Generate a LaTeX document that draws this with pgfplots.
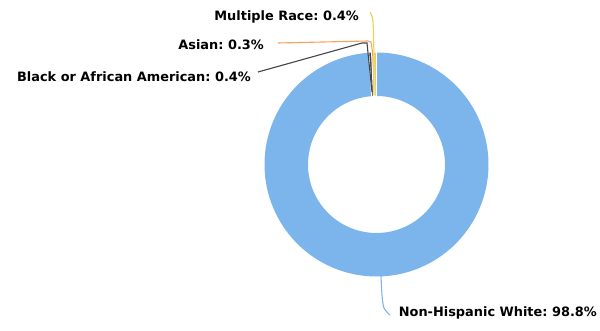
\documentclass[border=0pt]{standalone}
\usepackage{pgfplots}
\pgfplotsset{compat=1.18}
\usepackage{fontspec}
\setmainfont{DejaVu Sans}
\frenchspacing
\definecolor{cWhite}{HTML}{7CB5EC}
\definecolor{cBlack}{HTML}{434348}
\definecolor{cAsian}{HTML}{F7A35C}
\definecolor{cMulti}{HTML}{E4D354}
% data (percent)
\def\vWhite{98.8}
\def\vBlack{0.4}
\def\vAsian{0.3}
\def\vMulti{0.4}
\pgfmathsetmacro\vTot{\vWhite+\vBlack+\vAsian+\vMulti}
\pgfmathsetmacro\aA{\vWhite/\vTot*360}
\pgfmathsetmacro\aB{(\vWhite+\vBlack)/\vTot*360}
\pgfmathsetmacro\aC{(\vWhite+\vBlack+\vAsian)/\vTot*360}
\def\cx{376.5}
\def\cy{164.5}
\def\rin{68.5}
\def\rout{112}
\def\rmid{90.25}
\begin{document}
\begin{tikzpicture}
\useasboundingbox (0,0) rectangle (600bp,331bp);
\begin{axis}[
  at={(0,0)}, anchor=south west,
  width=600bp, height=331bp, scale only axis,
  xmin=0, xmax=600, ymin=0, ymax=331, y dir=reverse,
  hide axis, clip=false,
  every axis plot/.append style={no markers},
]
% slices (thick arcs, angle measured clockwise from top)
\addplot[draw=cWhite, line width=43.5bp, domain=0:\aA, samples=240] ({\cx+\rmid*sin(x)},{\cy-\rmid*cos(x)});
\addplot[draw=cBlack, line width=43.5bp, domain=\aA:\aB, samples=3] ({\cx+\rmid*sin(x)},{\cy-\rmid*cos(x)});
\addplot[draw=cAsian, line width=43.5bp, domain=\aB:\aC, samples=3] ({\cx+\rmid*sin(x)},{\cy-\rmid*cos(x)});
\addplot[draw=cMulti, line width=43.5bp, domain=\aC:360, samples=3] ({\cx+\rmid*sin(x)},{\cy-\rmid*cos(x)});
% white slice borders
\foreach \a in {0,\aA,\aB,\aC} {
  \edef\temp{\noexpand\addplot[draw=white, line width=1bp, domain=\rin-1:\rout+1, samples=2] ({\cx+x*sin(\a)},{\cy-x*cos(\a)});}
  \temp
}
% leader lines
\addplot[draw=cBlack, line width=1.1bp] coordinates {(258,72) (362,43) (367,43) (372,92)};
\addplot[draw=cAsian, line width=1.1bp] coordinates {(278,43) (368,41) (371,42) (373,55)};
\addplot[draw=cMulti, line width=1.1bp, smooth] coordinates {(370,12) (373,22) (374,60) (374,95)};
\addplot[draw=cWhite, line width=1.1bp, smooth] coordinates {(381,276) (382,295) (384,308) (390,315)};
% labels
\tikzset{lbl/.style={inner sep=0, font=\fontsize{12.9bp}{15bp}\selectfont\bfseries, text=black}}
\node[lbl, anchor=east] at (axis cs:359,17) {Multiple Race: 0.4\%};
\node[lbl, anchor=east] at (axis cs:264,45) {Asian: 0.3\%};
\node[lbl, anchor=east] at (axis cs:251,77) {Black or African American: 0.4\%};
\node[lbl, anchor=east] at (axis cs:597,313) {Non-Hispanic White: 98.8\%};
\end{axis}
\end{tikzpicture}
\end{document}
